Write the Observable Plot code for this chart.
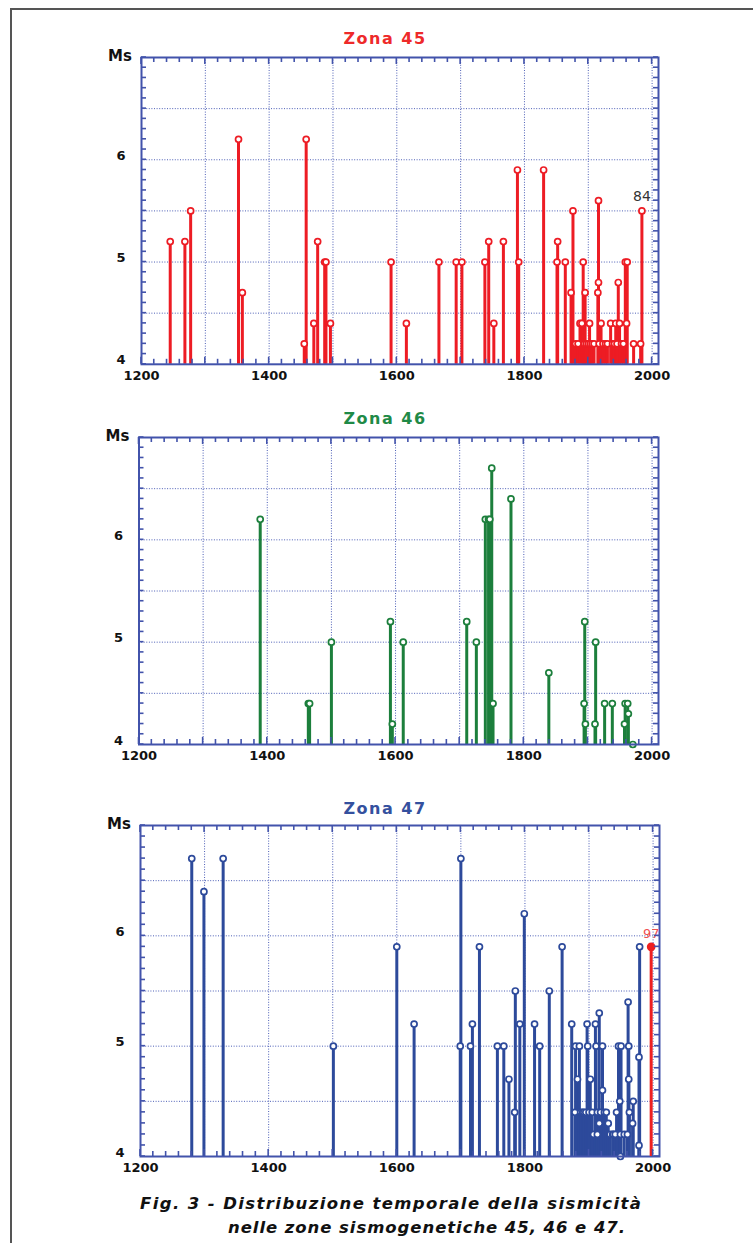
<!DOCTYPE html>
<html>
<head>
<meta charset="utf-8">
<script src="https://cdn.jsdelivr.net/npm/d3@7"></script>
<script src="https://cdn.jsdelivr.net/npm/@observablehq/plot@0.6"></script>
<style>
  html, body { margin: 0; padding: 0; background: #fff; }
  #fig { position: relative; width: 753px; height: 1243px; overflow: hidden; font-family: "DejaVu Sans", sans-serif; }
  #border { position: absolute; left: 10px; top: 8px; width: 760px; height: 1260px; border-top: 2px solid #555; border-left: 2px solid #555; }
  .panel { position: absolute; left: 0; }
  #overlay { position: absolute; left: 0; top: 0; }
</style>
</head>
<body>
<div id="fig"><div id="border"></div></div>
<script>
// ---------------- data ----------------
const xTickLabels = [1200, 1400, 1600, 1800, 2000];
const yTickLabels = [4, 5, 6];
const xDomain = [1200, 2010];
const yDomain = [4, 7];
const titles = ["Zona 45", "Zona 46", "Zona 47"];
const captionLines = [
  "Fig. 3 - Distribuzione temporale della sismicità",
  "nelle zone sismogenetiche 45, 46 e 47."
];

const zone45Years = [1245, 1268, 1277, 1352, 1358, 1455, 1458, 1470, 1476, 1487, 1489, 1496,
  1591, 1615, 1666, 1693, 1702, 1738, 1744, 1752, 1767, 1789, 1791, 1830, 1851, 1852,
  1864, 1873, 1876, 1880, 1884, 1887, 1890, 1892, 1894, 1895, 1897, 1900, 1902, 1903,
  1906, 1909, 1915, 1916, 1916, 1917, 1920, 1923, 1927, 1930, 1935, 1938, 1941, 1943,
  1945, 1947, 1949, 1952, 1955, 1958, 1960, 1961, 1971, 1982, 1984];
const zone45Ms = [5.2, 5.2, 5.5, 6.2, 4.7, 4.2, 6.2, 4.4, 5.2, 5.0, 5.0, 4.4,
  5.0, 4.4, 5.0, 5.0, 5.0, 5.0, 5.2, 4.4, 5.2, 5.9, 5.0, 5.9, 5.0, 5.2,
  5.0, 4.7, 5.5, 4.2, 4.2, 4.4, 4.4, 5.0, 4.2, 4.7, 4.2, 4.2, 4.4, 4.2,
  4.2, 4.2, 4.7, 5.6, 4.8, 4.2, 4.4, 4.2, 4.2, 4.2, 4.4, 4.2, 4.2, 4.4,
  4.2, 4.8, 4.4, 4.2, 4.2, 5.0, 4.4, 5.0, 4.2, 4.2, 5.5];
const zone45Note = { year: 1984, ms: 5.5, label: "84" };

const zone46Years = [1389, 1464, 1466, 1500, 1592, 1595, 1612, 1711, 1726, 1740, 1745, 1747,
  1750, 1752, 1780, 1839, 1894, 1895, 1896, 1911, 1912, 1926, 1938, 1957, 1958, 1962, 1963, 1970];
const zone46Ms = [6.2, 4.4, 4.4, 5.0, 5.2, 4.2, 5.0, 5.2, 5.0, 6.2, 6.2, 6.2,
  6.7, 4.4, 6.4, 4.7, 4.4, 5.2, 4.2, 4.2, 5.0, 4.4, 4.4, 4.2, 4.4, 4.4, 4.3, 4.0];

const zone47Years = [1280, 1299, 1329, 1501, 1600, 1627, 1699, 1700, 1715, 1718, 1729, 1757,
  1767, 1775, 1784, 1785, 1792, 1799, 1815, 1823, 1838, 1858, 1873, 1878, 1879, 1882,
  1885, 1887, 1890, 1892, 1895, 1897, 1898, 1900, 1902, 1905, 1907, 1910, 1911, 1913,
  1913, 1916, 1916, 1918, 1921, 1921, 1924, 1927, 1930, 1933, 1937, 1938, 1941, 1943,
  1946, 1948, 1949, 1949, 1950, 1955, 1960, 1961, 1962, 1962, 1963, 1968, 1969, 1978,
  1978, 1979];
const zone47Ms = [6.7, 6.4, 6.7, 5.0, 5.9, 5.2, 5.0, 6.7, 5.0, 5.2, 5.9, 5.0,
  5.0, 4.7, 4.4, 5.5, 5.2, 6.2, 5.2, 5.0, 5.5, 5.9, 5.2, 4.4, 5.0, 4.7,
  5.0, 4.4, 4.4, 4.4, 4.4, 5.2, 5.0, 4.4, 4.7, 4.4, 4.2, 5.2, 5.0, 4.4,
  4.2, 5.3, 4.3, 4.4, 5.0, 4.6, 4.4, 4.4, 4.3, 4.2, 4.2, 4.2, 4.2, 4.4,
  5.0, 4.5, 4.2, 4.0, 5.0, 4.2, 4.2, 5.4, 5.0, 4.7, 4.4, 4.3, 4.5, 4.9,
  4.1, 5.9];
const zone47Highlight = { year: 1997, ms: 5.9, label: "97" };

// ---------------- styling ----------------
const frameColor = "#4253ab";
const gridColor = "#4c5eb6";
const panels = [
  { years: zone45Years, ms: zone45Ms, color: "#ed1c24", titleColor: "#ee2a2a",
    frame: { left: 141, right: 658, top: 56.5, bottom: 363.3 }, note: zone45Note, titleY: 38 },
  { years: zone46Years, ms: zone46Ms, color: "#1c7f3c", titleColor: "#1f8a47",
    frame: { left: 138.5, right: 658, top: 436.5, bottom: 743.5 }, titleY: 418.5 },
  { years: zone47Years, ms: zone47Ms, color: "#2d4a9b", titleColor: "#34509e",
    frame: { left: 140, right: 659, top: 825, bottom: 1156 }, highlight: zone47Highlight, titleY: 808 }
];

const fig = document.getElementById("fig");
const W = 700, MT = 30, MB = 30;
const fontFamily = "'DejaVu Sans', sans-serif";
const fmt = d3.format("d");
const minorX = d3.range(1200, 2011, 20);
const majorX = d3.range(1200, 2011, 100);
const minorY = d3.range(40, 71, 1).map(v => v / 10);
const tickPx = 5, majorTickPx = 7;

panels.forEach((p, i) => {
  const data = p.years.map((y, k) => ({ year: y, ms: p.ms[k] }));
  const [y0] = yDomain;
  const marks = [
    Plot.gridX(d3.range(1300, 2001, 100), { stroke: gridColor, strokeOpacity: 1, strokeWidth: 1, strokeDasharray: "1,1.6" }),
    Plot.gridY([4.5, 5, 5.5, 6, 6.5], { stroke: gridColor, strokeOpacity: 1, strokeWidth: 1, strokeDasharray: "1,1.6" }),
    Plot.axisX(xTickLabels, { anchor: "bottom", tickSize: 0, tickPadding: 6, label: null, tickFormat: fmt, fontWeight: "bold", fontSize: 13, fill: "#111" }),
    Plot.axisY(yTickLabels, { anchor: "left", tickSize: 0, tickPadding: 16, label: null, tickFormat: fmt, fontWeight: "bold", fontSize: 13, dy: -4, fill: "#111" }),
    Plot.ruleX(data, { x: "year", y1: y0, y2: "ms", stroke: p.color, strokeWidth: 3 }),
    Plot.dot(data, { x: "year", y: "ms", r: 3, fill: "white", stroke: p.color, strokeWidth: 1.7 }),
    Plot.frame({ stroke: frameColor, strokeWidth: 2 }),
    Plot.text(["Ms"], { frameAnchor: "top-left", dx: -21.5, dy: -1.5, lineAnchor: "middle", textAnchor: "middle", fontWeight: "bold", fontSize: 15, fill: "#111" })
  ];
  if (p.note) {
    marks.push(Plot.text([p.note], { x: "year", y: "ms", text: "label", dy: -14, fontSize: 14, fill: "#333" }));
  }
  if (p.highlight) {
    marks.push(Plot.ruleX([p.highlight], { x: "year", y1: y0, y2: "ms", stroke: "#ee2020", strokeWidth: 3 }));
    marks.push(Plot.dot([p.highlight], { x: "year", y: "ms", r: 3.6, fill: "#ee2020", stroke: "#ee2020" }));
    marks.push(Plot.text([p.highlight], { x: "year", y: "ms", text: "label", dy: -13, fontSize: 13, fill: "#f05050" }));
  }
  const h = MT + MB + (p.frame.bottom - p.frame.top);
  const chart = Plot.plot({
    width: W, height: h,
    marginLeft: p.frame.left, marginRight: W - p.frame.right, marginTop: MT, marginBottom: MB,
    x: { domain: xDomain }, y: { domain: yDomain },
    style: { background: "transparent", fontFamily, overflow: "visible" },
    marks
  });

  // inward minor ticks on all four sides, placed with the chart's own scales
  const sx = chart.scale("x"), sy = chart.scale("y");
  const L = p.frame.left, R = W - (W - p.frame.right), T = MT, B = h - MB;
  const g = d3.select(chart).append("g")
    .attr("stroke", frameColor).attr("stroke-width", 1.6).attr("fill", "none");
  minorX.forEach(v => {
    const x = sx.apply(v), len = majorX.includes(v) ? majorTickPx : tickPx;
    g.append("line").attr("x1", x).attr("x2", x).attr("y1", B).attr("y2", B - len);
    g.append("line").attr("x1", x).attr("x2", x).attr("y1", T).attr("y2", T + len);
  });
  majorX.filter(v => !minorX.includes(v)).forEach(v => {
    const x = sx.apply(v);
    g.append("line").attr("x1", x).attr("x2", x).attr("y1", B).attr("y2", B - majorTickPx);
    g.append("line").attr("x1", x).attr("x2", x).attr("y1", T).attr("y2", T + majorTickPx);
  });
  minorY.forEach(v => {
    const y = sy.apply(v);
    g.append("line").attr("x1", L).attr("x2", L + tickPx).attr("y1", y).attr("y2", y);
    g.append("line").attr("x1", R).attr("x2", R - tickPx).attr("y1", y).attr("y2", y);
  });

  chart.classList.add("panel");
  chart.style.top = (p.frame.top - MT) + "px";
  fig.appendChild(chart);
});

// titles and caption (overlay svg)
const ns = "http://www.w3.org/2000/svg";
const svg = document.createElementNS(ns, "svg");
svg.setAttribute("id", "overlay");
svg.setAttribute("width", 753);
svg.setAttribute("height", 1243);
panels.forEach((p, i) => {
  const t = document.createElementNS(ns, "text");
  t.setAttribute("x", 385);
  t.setAttribute("y", p.titleY);
  t.setAttribute("text-anchor", "middle");
  t.setAttribute("dominant-baseline", "central");
  t.setAttribute("font-family", "DejaVu Sans");
  t.setAttribute("font-weight", "bold");
  t.setAttribute("font-size", 16);
  t.setAttribute("letter-spacing", "1.5");
  t.setAttribute("fill", p.titleColor);
  t.textContent = titles[i];
  svg.appendChild(t);
});
const capPos = [{ x: 140, y: 1209, len: 501 }, { x: 228, y: 1233, len: 397 }];
captionLines.forEach((line, i) => {
  const t = document.createElementNS(ns, "text");
  t.setAttribute("x", capPos[i].x);
  t.setAttribute("y", capPos[i].y);
  t.setAttribute("font-family", "DejaVu Sans");
  t.setAttribute("font-weight", "bold");
  t.setAttribute("font-style", "italic");
  t.setAttribute("font-size", 16.5);
  t.setAttribute("textLength", capPos[i].len);
  t.setAttribute("lengthAdjust", "spacing");
  t.setAttribute("fill", "#111");
  t.textContent = line;
  svg.appendChild(t);
});
fig.appendChild(svg);
</script>
</body>
</html>
